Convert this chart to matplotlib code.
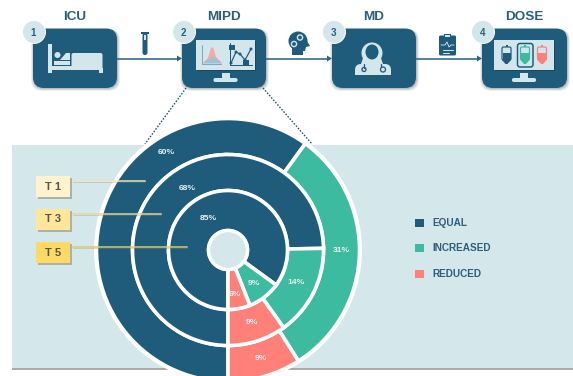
import matplotlib
matplotlib.use("Agg")
import matplotlib.pyplot as plt
from matplotlib.patches import FancyBboxPatch, Rectangle, Circle, Polygon, Ellipse

# ---- data ----
series_names = ["EQUAL", "INCREASED", "REDUCED"]
t1_values = [60, 31, 9]
t3_values = [68, 14, 9]
t5_values = [85, 9, 6]
time_labels = ["T 1", "T 3", "T 5"]
step_titles = ["ICU", "MIPD", "MD", "DOSE"]
step_numbers = ["1", "2", "3", "4"]

# ---- style / layout ----
DARK = "#1F5C7B"
GREEN = "#3CBBA1"
RED = "#FF7F79"
PANEL = "#D4E7EB"
LIGHT = "#D2E6EB"
TXT = "#2A5F7E"
colors = [DARK, GREEN, RED]
plt.rcParams["font.family"] = ["Liberation Sans", "DejaVu Sans"]

fig = plt.figure(figsize=(5.73, 3.76), dpi=100, facecolor="white")
ax = fig.add_axes([0, 0, 1, 1])
PX = 0.72  # points per pixel


def rbox(x0, y0, x1, y1, r, fc, ec="none", lw=0, z=3, alpha=None):
    p = FancyBboxPatch((x0, y0), x1 - x0, y1 - y0, boxstyle=f"round,pad=0,rounding_size={r}",
                       fc=fc, ec=ec, lw=lw, zorder=z, alpha=alpha)
    ax.add_patch(p)
    return p


def rect(x0, y0, x1, y1, fc, z=5, alpha=None):
    ax.add_patch(Rectangle((x0, y0), x1 - x0, y1 - y0, fc=fc, ec="none", zorder=z, alpha=alpha))


def poly(pts, fc, z=6):
    ax.add_patch(Polygon(pts, closed=True, fc=fc, ec="none", zorder=z))


def line(xs, ys, c, lw, z=6, **kw):
    ax.plot(xs, ys, color=c, lw=lw * PX, zorder=z, solid_capstyle="round", **kw)


# panel
rect(12, 145, 573, 368, PANEL, z=1)
rect(12, 368, 573, 369.5, "#A9ADA8", z=1)

# flow arrows
for x0, x1 in [(117, 182), (266, 332), (416, 482)]:
    line([x0, x1 - 3], [58.5, 58.5], "#2E6784", 1.6, z=2)
    poly([(x1 - 5, 55.5), (x1, 58.5), (x1 - 5, 61.5)], "#2E6784", z=2)

# dotted zoom lines
for xs in [(186, 145), (263, 312)]:
    ax.plot(xs, (88, 144), color="#1F4A60", lw=1.3 * PX, ls=(0, (1.2, 1.2)), zorder=2)

# step boxes
boxes = [(33, 117), (182, 266), (332, 416), (482, 567)]
badge_x = [34, 184, 334, 483]
for (x0, x1), bx, title, num in zip(boxes, badge_x, step_titles, step_numbers):
    for d, a in [(3, .10), (2, .16), (1, .22)]:
        rbox(x0 - d + 1, 28 + 1, x1 + d - 1 + 1, 88 + d, 11, "#50606A", z=2.5, alpha=a)
    rbox(x0, 28.5, x1, 88, 11, DARK, z=3)
    ax.add_patch(Circle((bx, 32), 11.5, fc=LIGHT, ec="white", lw=0.7, zorder=7))
    ax.text(bx - 0.5, 32.5, num, ha="center", va="center", fontsize=7, fontweight="bold", color=TXT, zorder=8)
    ax.text((x0 + x1) / 2, 17.5, title, ha="center", va="center", fontsize=9.7, fontweight="bold", color=TXT, zorder=8)

# bed icon
rect(48, 44, 51.5, 73, LIGHT)
rect(50, 66, 73, 69.5, LIGHT)
rbox(71.5, 53, 102.5, 70, 2, LIGHT, z=5)
rect(99, 68, 102.5, 73, LIGHT)
ax.add_patch(Circle((57.5, 55), 3, fc=LIGHT, ec="none", zorder=5))
poly([(60, 60), (66, 53), (70, 53), (70, 60)], LIGHT)
poly([(54, 61), (70, 61), (70, 65), (54, 65)], LIGHT)

# monitors
for sx0, sx1 in [(196, 255), (494, 554)]:
    rect(sx0 + 1, 41, sx1 + 1, 71, "#12384C", z=4, alpha=0.5)
    rect(sx0, 40, sx1, 70, LIGHT)
    cx = (sx0 + sx1) / 2
    rect(cx - 4, 73, cx + 4, 79, LIGHT)
    rbox(cx - 12, 78, cx + 12, 82, 1.8, LIGHT, z=5)

# MIPD screen: small charts
line([202, 202, 221], [45, 64, 64], "#7FA8BE", 1)
poly([(203, 63), (208, 58), (211, 48), (213, 47), (216, 57), (222, 63)], "#F4A9A3")
poly([(203, 63.5), (209, 59), (212, 57), (215, 58), (222, 63.5)], "#9CC1D8")
line([230, 230, 252], [43, 65, 65], DARK, 1)
line([231, 236, 240, 245, 251], [63, 52, 54, 60, 49], DARK, 1.2)
for px, py in [(231, 63), (236, 52), (240, 54), (245, 60), (251, 49)]:
    ax.add_patch(Circle((px, py), 1.5, fc=DARK, ec="none", zorder=7))
rect(229, 45, 235, 50, DARK, z=7)
rect(243, 60, 249, 65, DARK, z=7)

# doctor icon
ax.add_patch(Circle((372, 53), 10.5, fc=LIGHT, ec="none", zorder=5))
poly([(363, 58), (381, 58), (383, 64), (361, 64)], LIGHT)
ax.add_patch(Ellipse((372, 52), 13, 15, fc=DARK, ec="none", zorder=6))
rbox(355, 64, 391, 75, 6, LIGHT, z=5)
rect(355, 70, 391, 75, LIGHT)
poly([(367, 62.5), (377, 62.5), (372, 68)], LIGHT, z=7)
line([364, 364], [64, 68], DARK, 1.3)
ax.add_patch(Circle((364, 69.5), 2, fc="none", ec=DARK, lw=1.3 * PX, zorder=7))
line([381, 381], [64, 67], DARK, 1.3)
ax.add_patch(Circle((383, 69.5), 2.5, fc="none", ec=DARK, lw=1.3 * PX, zorder=7))

# dose bags
for bx, bc in [(506.5, DARK), (525, GREEN), (542, RED)]:
    rbox(bx - 4.5, 47, bx + 4.5, 60, 1.5, LIGHT, ec=bc, lw=1.2 * PX, z=6)
    rect(bx - 4, 53, bx + 4, 60, bc, z=7)
    poly([(bx - 4.5, 60), (bx + 4.5, 60), (bx + 1, 64), (bx - 1, 64)], bc, z=7)
    rect(bx - 1, 44.5, bx + 1, 47, bc, z=7)
rbox(517.5, 43.5, 533, 67, 2.5, "none", ec=DARK, lw=1.5 * PX, z=8)

# tube icon
rect(141, 31.5, 149, 34, DARK)
rbox(142.5, 33, 147.5, 55, 2.4, DARK, z=5)
rect(144, 34.5, 146, 40, LIGHT, z=6)

# head with gears icon
ax.add_patch(Circle((298, 41), 9.5, fc=DARK, ec="none", zorder=5))
poly([(292, 48), (303, 46), (303, 55), (292, 55)], DARK)
poly([(305, 38), (310, 46), (306, 47), (305, 51), (300, 51)], DARK)
for gx, gy, gr in [(294, 44, 2.6), (300, 37.5, 2.6)]:
    ax.add_patch(Circle((gx, gy), gr, fc=DARK, ec=LIGHT, lw=1.4 * PX, zorder=6))

# clipboard icon
rbox(439, 35.5, 456, 55.5, 1.5, DARK, z=5)
rect(444, 34, 451, 38, DARK, z=6)
rect(445, 35.2, 450, 36.8, LIGHT, z=7)
line([441, 445, 447, 449, 451, 454], [45, 45, 42, 47, 45, 45], LIGHT, 0.9)
line([443, 453], [49.5, 49.5], LIGHT, 1)
line([443, 449], [52.5, 52.5], LIGHT, 1)

# ---- nested donut ----
CX, CY = 228, 250
ax.add_patch(Circle((CX, CY), 134, fc="white", ec="none", zorder=3))
rings = [(t1_values, 131.5, 36), (t3_values, 95.5, 36), (t5_values, 59.5, 40)]
for values, radius, width in rings:
    ax.pie(values, colors=colors, radius=radius, center=(CX, CY), startangle=90, counterclock=True,
           frame=True, normalize=True,
           wedgeprops=dict(width=width, edgecolor="white", linewidth=2.6, zorder=4))
ax.add_patch(Circle((CX, CY), 19.5, fc=PANEL, ec="white", lw=3.4 * PX, zorder=5))

# slice labels
slice_labels = ["60%", "31%", "9%", "68%", "14%", "9%", "85%", "9%", "6%"]
label_xy = [(166, 153), (341, 250.5), (261, 358.5), (187, 188.5), (296, 283),
            (252, 322), (208, 219), (254, 283.5), (235, 295)]
for s, (x, y) in zip(slice_labels, label_xy):
    ax.text(x, y, s, ha="center", va="center", fontsize=6.1, fontweight="bold", color="#E9F1F2", zorder=9)

# T tags with leader lines
tag_y = [176, 209, 242]
tag_fc = ["#FFF2CC", "#FFE699", "#FFD966"]
leader_end = [145, 161, 187]
leader_c = ["#EFE4BC", "#E8D792", "#DFC965"]
for lab, y, fc, xe, lc in zip(time_labels, tag_y, tag_fc, leader_end, leader_c):
    rect(37.5, y + 1.5, 71.5, y + 22.5, "#8E8E80", z=6, alpha=0.6)
    rect(36, y, 70, y + 21, fc, z=7)
    ax.text(53, y + 10.5, lab, ha="center", va="center", fontsize=8, fontweight="bold", color="#55554A", zorder=8)
    ax.plot([73, xe], [y + 5, y + 5], color=lc, lw=1.5 * PX, zorder=8)
    ax.plot([73, xe], [y + 6.2, y + 6.2], color="#8E8E80", lw=0.6 * PX, alpha=0.5, zorder=7)

# legend
for name, c, y in zip(series_names, colors, [223, 248, 273.5]):
    rect(415, y - 4, 423.5, y + 4.2, c, z=3)
    ax.text(432, y + 0.3, name, ha="left", va="center", fontsize=7.2, fontweight="bold", color=TXT, zorder=3)

ax.set_xlim(0, 573)
ax.set_ylim(376, 0)
ax.set_aspect("auto")
ax.axis("off")
fig.savefig("out.png", dpi=100, facecolor="white")
